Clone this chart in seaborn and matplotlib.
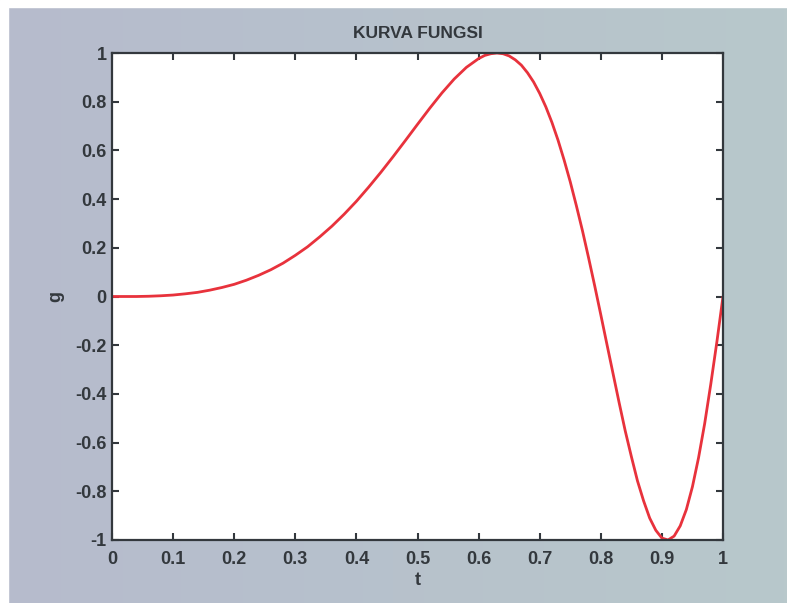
import numpy as np
import pandas as pd
import matplotlib
matplotlib.use("Agg")
import matplotlib.pyplot as plt
from matplotlib.patches import Rectangle
import seaborn as sns

# Curve samples g(t)
t_vals = [0.00, 0.02, 0.04, 0.06, 0.08, 0.10, 0.12, 0.14, 0.16, 0.18,
          0.20, 0.22, 0.24, 0.26, 0.28, 0.30, 0.32, 0.34, 0.36, 0.38,
          0.40, 0.42, 0.44, 0.46, 0.48, 0.50, 0.52, 0.54, 0.56, 0.58,
          0.60, 0.61, 0.62, 0.63, 0.64, 0.65, 0.66, 0.67, 0.68, 0.69,
          0.70, 0.71, 0.72, 0.73, 0.74, 0.75, 0.76, 0.77, 0.78, 0.79,
          0.80, 0.81, 0.82, 0.83, 0.84, 0.85, 0.86, 0.87, 0.88, 0.89,
          0.90, 0.91, 0.92, 0.93, 0.94, 0.95, 0.96, 0.97, 0.98, 0.99, 1.00]
g_vals = [0.000, 0.000, 0.000, 0.001, 0.003, 0.006, 0.011, 0.017, 0.026, 0.037,
          0.050, 0.067, 0.087, 0.110, 0.137, 0.169, 0.204, 0.245, 0.289, 0.338,
          0.391, 0.449, 0.510, 0.574, 0.640, 0.707, 0.773, 0.836, 0.893, 0.941,
          0.977, 0.990, 0.997, 1.000, 0.997, 0.988, 0.972, 0.950, 0.919, 0.881,
          0.834, 0.779, 0.715, 0.642, 0.560, 0.471, 0.373, 0.270, 0.159, 0.044,
          -0.075, -0.196, -0.316, -0.436, -0.552, -0.657, -0.757, -0.839, -0.910, -0.960,
          -0.992, -1.000, -0.984, -0.942, -0.875, -0.781, -0.662, -0.522, -0.360, -0.186, 0.000]

x_ticks = [0, 0.1, 0.2, 0.3, 0.4, 0.5, 0.6, 0.7, 0.8, 0.9, 1]
x_ticklabels = ["0", "0.1", "0.2", "0.3", "0.4", "0.5", "0.6", "0.7", "0.8", "0.9", "1"]
y_ticks = [-1, -0.8, -0.6, -0.4, -0.2, 0, 0.2, 0.4, 0.6, 0.8, 1]
y_ticklabels = ["-1", "-0.8", "-0.6", "-0.4", "-0.2", "0", "0.2", "0.4", "0.6", "0.8", "1"]

title_text = "KURVA FUNGSI"
x_label = "t"
y_label = "g"

df = pd.DataFrame({"t": t_vals, "g": g_vals})

sns.set_style("white")
plt.rcParams["font.family"] = ["Liberation Sans", "DejaVu Sans"]

W, H = 787, 603
left_c = np.array([182, 187, 205]) / 255
right_c = np.array([184, 200, 203]) / 255

fig = plt.figure(figsize=(W / 100, H / 100), dpi=100)
fig.patch.set_facecolor(tuple(right_c))

# Grey-blue window background with a soft left-to-right tint
bg = fig.add_axes([0, 0, 1, 1], zorder=0)
ramp = np.linspace(0, 1, 256)[None, :, None]
grad = left_c[None, None, :] * (1 - ramp) + right_c[None, None, :] * ramp
bg.imshow(grad, aspect="auto", extent=[0, 1, 0, 1])
bg.set_xlim(0, 1)
bg.set_ylim(0, 1)
bg.set_axis_off()
# thin white margin along the top and left edges
bg.add_patch(Rectangle((0, 1 - 7 / H), 1, 7 / H, color="white", zorder=3))
bg.add_patch(Rectangle((0, 0), 8 / W, 1, color="white", zorder=3))

ax = fig.add_axes([112 / W, 1 - 540 / H, (723 - 112) / W, (540 - 53) / H], zorder=1)
ax.set_facecolor("white")

sns.lineplot(data=df, x="t", y="g", ax=ax, color="#e8323c", linewidth=2.0,
             sort=False, estimator=None)

ax.set_xlim(0, 1)
ax.set_ylim(-1, 1)
ax.set_xticks(x_ticks)
ax.set_xticklabels(x_ticklabels)
ax.set_yticks(y_ticks)
ax.set_yticklabels(y_ticklabels)

dark = "#33383d"
for s in ax.spines.values():
    s.set_visible(True)
    s.set_color(dark)
    s.set_linewidth(1.6)

ax.tick_params(direction="in", length=5, width=1.5, color=dark,
               top=True, right=True, bottom=True, left=True,
               labelsize=13, labelcolor=dark)
ax.tick_params(axis="x", pad=8)
ax.tick_params(axis="y", pad=4)
for lbl in ax.get_xticklabels() + ax.get_yticklabels():
    lbl.set_fontweight("bold")

ax.set_title(title_text, fontsize=12.5, fontweight="bold", color=dark, pad=11)
ax.set_xlabel(x_label, fontsize=13, fontweight="bold", color=dark, labelpad=3)
ax.set_ylabel(y_label, fontsize=13, fontweight="bold", color=dark, labelpad=8)

fig.savefig("out.png", dpi=100, facecolor=fig.get_facecolor())
